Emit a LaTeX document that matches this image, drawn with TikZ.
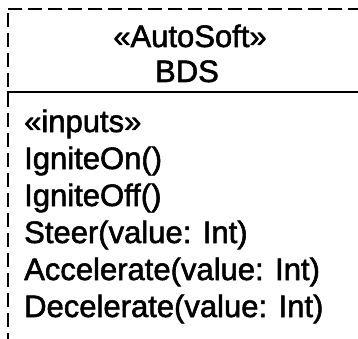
\documentclass[tikz,border=0pt]{standalone}
\usepackage{fontspec}
\setmainfont{Liberation Sans}
\usetikzlibrary{positioning}

\begin{document}
\begin{tikzpicture}[x=1pt, y=-1pt,
    frame/.style={draw=black, line width=1.3pt, dash pattern=on 14pt off 6pt},
    rule/.style={draw=black, line width=1.3pt},
    txt/.style={font=\fontsize{31}{37}\selectfont\addfontfeature{FakeBold=1.8}, inner sep=0pt, anchor=base},
    member/.style={txt, anchor=base west}
]
    \useasboundingbox (0,0) rectangle (358,339);
    \clip (0,0) rectangle (358,339);

    % Class box
    \draw[frame] (8,9) -- (380,9);
    \draw[frame] (8,13) -- (8,360);
    \draw[rule] (8,100) -- (8,92) -- (380,92);

    % Header
    \node[txt] (stereo) at (190,47) {«AutoSoft»};
    \node[txt] (bds) at (187,82) {BDS};

    % Inputs
    \node[member] (inputs) at (24,132) {«inputs»};
    \node[member] (igniteon) at (24,169) {IgniteOn()};
    \node[member] (igniteoff) at (24,206) {IgniteOff()};
    \node[member] (steer) at (24,243) {Steer(value: Int)};
    \node[member] (accel) at (24,280) {Accelerate(value: Int)};
    \node[member] (decel) at (24,317) {Decelerate(value: Int)};
\end{tikzpicture}
\end{document}
